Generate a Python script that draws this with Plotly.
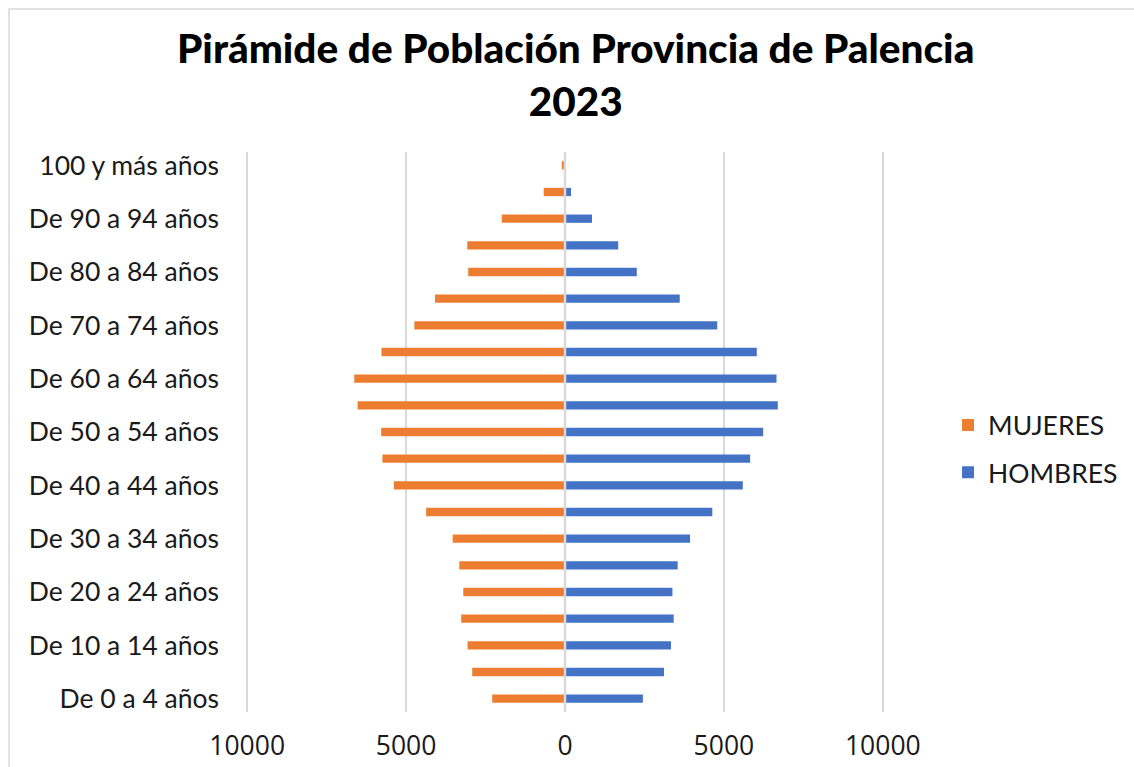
import plotly.graph_objects as go

categories = ["De 0 a 4 años", "De 5 a 9 años", "De 10 a 14 años", "De 15 a 19 años",
              "De 20 a 24 años", "De 25 a 29 años", "De 30 a 34 años", "De 35 a 39 años",
              "De 40 a 44 años", "De 45 a 49 años", "De 50 a 54 años", "De 55 a 59 años",
              "De 60 a 64 años", "De 65 a 69 años", "De 70 a 74 años", "De 75 a 79 años",
              "De 80 a 84 años", "De 85 a 89 años", "De 90 a 94 años", "De 95 a 99 años",
              "100 y más años"]
mujeres = [2290, 2920, 3065, 3265, 3200, 3325, 3535, 4370, 5385, 5745, 5785, 6525,
           6630, 5775, 4740, 4090, 3045, 3075, 1990, 670, 100]
hombres = [2450, 3115, 3335, 3420, 3380, 3545, 3935, 4635, 5595, 5825, 6235, 6695,
           6655, 6035, 4790, 3610, 2260, 1675, 850, 190, 30]
x_tickvals = [-10000, -5000, 0, 5000, 10000]
x_ticktext = ["10000", "5000", "0", "5000", "10000"]
y_tickcats = categories[::2]
title_text = "Pirámide de Población Provincia de Palencia<br>2023"

FONT = "Lato"
TICKFONT = "Open Sans"

fig = go.Figure()
fig.add_trace(go.Bar(y=categories, x=[-v for v in mujeres], orientation="h", name="MUJERES",
                     marker=dict(color="#ED7D31", line=dict(width=0)), legendgroup="m",
                     customdata=mujeres, hovertemplate="%{y}: %{customdata}<extra>MUJERES</extra>"))
fig.add_trace(go.Bar(y=categories, x=hombres, orientation="h", name="HOMBRES",
                     marker=dict(color="#4472C4", line=dict(width=0)), legendgroup="h"))

title_font = dict(family=FONT, size=40.5, color="black", weight=900)

fig.update_layout(
    width=1134, height=767,
    barmode="relative", bargap=0.69,
    paper_bgcolor="white", plot_bgcolor="white",
    margin=dict(l=244, r=248, t=152, b=55, autoexpand=False),
    font=dict(family=FONT, size=26, color="#1a1a1a"),
    showlegend=True,
    legend=dict(xref="container", yref="container", x=0.836, xanchor="left",
                y=0.415, yanchor="middle", traceorder="grouped",
                tracegroupgap=10, font=dict(family=FONT, size=26.5, color="#1a1a1a"),
                itemwidth=30),
    xaxis=dict(range=[-10100, 10100], tickvals=x_tickvals, ticktext=x_ticktext,
               showgrid=True, gridcolor="#d9d9d9", gridwidth=1.5, zeroline=False,
               showline=False, ticks="", ticklabelstandoff=15,
               tickfont=dict(family=TICKFONT, size=26.5, color="#1a1a1a")),
    yaxis=dict(categoryorder="array", categoryarray=categories, tickvals=y_tickcats,
               showgrid=False, ticks="", ticklabelstandoff=24, showline=False, zeroline=False,
               tickfont=dict(family=FONT, size=26.5, color="#1a1a1a")),
    annotations=[
        dict(text=title_text, xref="paper", yref="paper", x=0.5157, y=1.1384,
             xanchor="center", yanchor="middle", showarrow=False, align="center",
             font=title_font),
    ],
    shapes=[
        dict(type="line", xref="x", yref="paper", x0=0, x1=0, y0=0, y1=1,
             line=dict(color="#d9d9d9", width=2.5), layer="above"),
        dict(type="rect", xref="paper", yref="paper", x0=-0.366, x1=1.5, y0=-0.2, y1=1.2554,
             line=dict(color="#d9d9d9", width=1.5), layer="below"),
    ],
)
fig.write_html("out.html", config={"displayModeBar": False},
               post_script="document.body.style.margin='0';document.body.style.padding='0';")
